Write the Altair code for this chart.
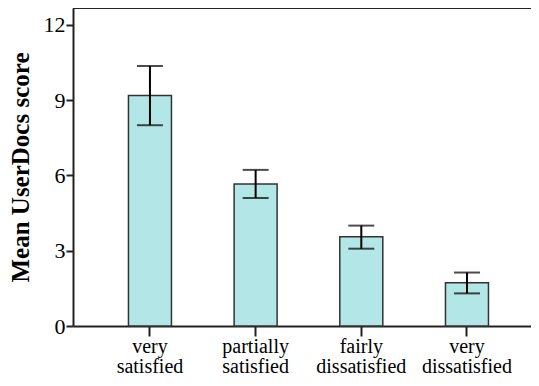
import altair as alt
import pandas as pd

categories = ["very satisfied", "partially satisfied", "fairly dissatisfied", "very dissatisfied"]
means = [9.18, 5.66, 3.56, 1.72]
lows = [8.00, 5.10, 3.08, 1.30]
highs = [10.36, 6.22, 4.00, 2.13]
y_ticks = [0, 3, 6, 9, 12]

df = pd.DataFrame({"cat": categories, "mean": means, "lo": lows, "hi": highs})

FONT = "Liberation Serif"
W, H = 458, 318

xscale = alt.Scale(paddingInner=0.593, paddingOuter=0.4636, align=0.566)
yscale = alt.Scale(domain=[0, 12.67], nice=False, zero=True)

x = alt.X("cat:N", sort=categories, title=None, scale=xscale,
          axis=alt.Axis(labelAngle=0, labelExpr="split(datum.label, ' ')",
                        labelFontSize=20, labelLineHeight=20, labelPadding=0,
                        tickSize=10))
y = alt.Y("mean:Q", scale=yscale, title="Mean UserDocs score",
          axis=alt.Axis(values=y_ticks, grid=False, labelFontSize=22,
                        labelPadding=1, tickSize=7, titleFontSize=25,
                        titlePadding=10))

base = alt.Chart(df)
bars = base.mark_bar(fill="#b3e6e6", stroke="#333", strokeWidth=1.5).encode(x=x, y=y)
err = base.mark_rule(color="black", strokeWidth=2).encode(
    x=alt.X("cat:N", sort=categories), y=alt.Y("lo:Q", scale=yscale), y2="hi:Q")
cap_hi = base.mark_tick(color="black", size=26, thickness=2).encode(
    x=alt.X("cat:N", sort=categories), y=alt.Y("hi:Q", scale=yscale))
cap_lo = base.mark_tick(color="black", size=26, thickness=2).encode(
    x=alt.X("cat:N", sort=categories), y=alt.Y("lo:Q", scale=yscale))
top = alt.Chart(df).mark_rule(color="#222", strokeWidth=2).encode(
    x=alt.value(0), x2=alt.value(W), y=alt.value(0))

chart = alt.layer(bars, err, cap_hi, cap_lo, top).properties(
    width=W, height=H,
    autosize=alt.AutoSizeParams(type="none"),
    padding={"left": 65, "top": 0, "right": 0, "bottom": 52},
).configure_view(stroke=None).configure_axis(
    labelFont=FONT, labelColor="black", titleFont=FONT, titleColor="black",
    titleFontWeight="bold", tickColor="#222", tickWidth=2,
    domainColor="#222", domainWidth=2, grid=False,
)

chart.save("out.html", embed_options={"renderer": "svg", "actions": False})
